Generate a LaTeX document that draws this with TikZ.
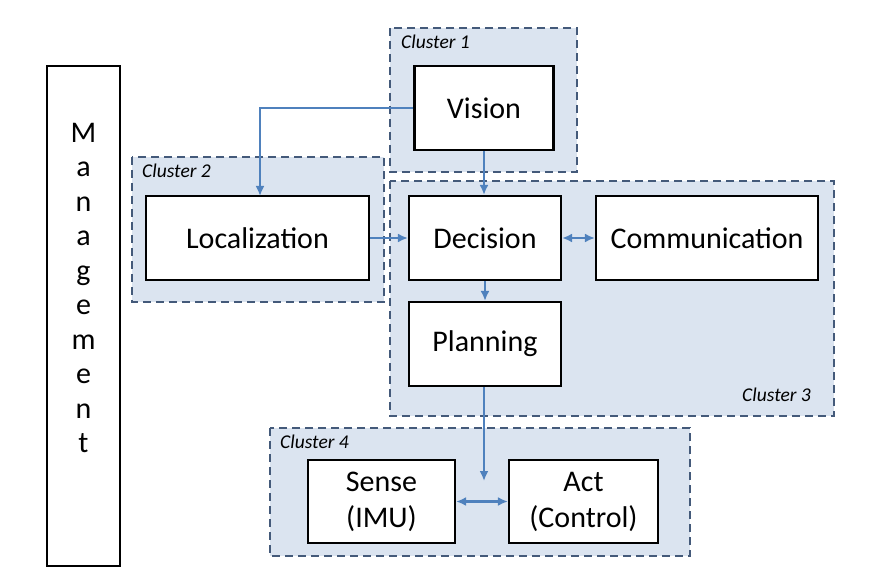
\documentclass[tikz,border=0pt]{standalone}
\usepackage{fontspec}
\setmainfont{Carlito}
\usetikzlibrary{arrows.meta,positioning}
\definecolor{clusterFill}{RGB}{219,228,240}
\definecolor{clusterLine}{RGB}{68,90,122}
\definecolor{flecha}{RGB}{79,129,189}
\tikzstyle{block}  =[draw, line width=2.2pt, fill=white, align=center,
                    inner sep=0pt, font=\fontsize{30}{36}\selectfont]
\tikzstyle{cluster}=[draw=clusterLine, fill=clusterFill,
                    dash pattern=on 8pt off 5pt, line width=2pt]
\tikzstyle{clabel} =[anchor=north west, inner sep=0pt,
                    font=\fontsize{19.5}{23}\selectfont\itshape]
\tikzstyle{edge}   =[flecha, line width=2.2pt, >={Latex[length=10pt,width=9pt]}]
\begin{document}
\begin{tikzpicture}[x=1pt,y=-1pt]
    \useasboundingbox (0,0) rectangle (874,585);

    % clusters
    \draw[cluster] (390,28) rectangle (577,172);
    \draw[cluster] (132,157) rectangle (384,302);
    \draw[cluster] (390,181) rectangle (834,416);
    \draw[cluster] (270,428) rectangle (690,556);
    \node[clabel] (c1) at (401,35) {Cluster 1};
    \node[clabel] (c2) at (142,164) {Cluster 2};
    \node[clabel] (c3) at (742,388) {Cluster 3};
    \node[clabel] (c4) at (280,435) {Cluster 4};

    % blocks
    \node[block, minimum width=73, minimum height=500] (man) at (83.5,316)
        {M\\[-1.5pt]a\\[-1.5pt]n\\[-1.5pt]a\\[-1.5pt]g\\[-1.5pt]e\\[-1.5pt]m\\[-1.5pt]e\\[-1.5pt]n\\[-1.5pt]t\\[20pt]};
    \node[block, minimum width=139, minimum height=84] (vis) at (484,108) {Vision};
    \node[block, minimum width=223, minimum height=84] (loc) at (257.5,238) {Localization};
    \node[block, minimum width=152, minimum height=84] (dec) at (485,238) {Decision};
    \node[block, minimum width=222, minimum height=84] (com) at (707,238) {Communication};
    \node[block, minimum width=152, minimum height=84] (pla) at (485,344) {Planning};
    \node[block, minimum width=147, minimum height=83] (sen) at (381.5,501.5) {Sense\\(IMU)};
    \node[block, minimum width=149, minimum height=83] (act) at (583.5,501.5) {Act\\(Control)};
    \coordinate (ltop) at (260,196);
    \coordinate (tip) at (484,481);

    % connectors
    \draw[edge,->] (vis.west) -| (ltop);
    \draw[edge,->] (vis.south) -- (dec.north -| vis.south);
    \draw[edge,->] (loc) -- (dec);
    \draw[edge,<->] (dec) -- (com);
    \draw[edge,->] (dec) -- (pla);
    \draw[edge,->] (pla.south -| tip) -- (tip);
    \draw[edge,<->] (sen) -- (act);
\end{tikzpicture}
\end{document}
